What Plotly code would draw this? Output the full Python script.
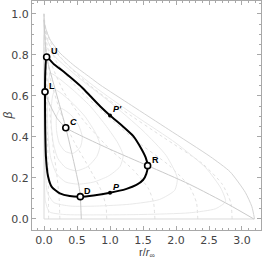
import plotly.graph_objects as go

# ---- data ----
# bold orbit (clockwise from U)
orbit_r = [0.04, 0.15, 0.30, 0.44, 0.58, 0.70, 0.85, 1.00, 1.20, 1.35, 1.47, 1.54, 1.57, 1.55, 1.50, 1.40, 1.25, 1.00, 0.75, 0.55, 0.39, 0.24, 0.12, 0.06, 0.03, 0.018, 0.015, 0.02, 0.04]
orbit_b = [0.79, 0.755, 0.718, 0.68, 0.64, 0.60, 0.55, 0.505, 0.45, 0.405, 0.345, 0.30, 0.26, 0.22, 0.19, 0.166, 0.147, 0.128, 0.115, 0.109, 0.112, 0.125, 0.155, 0.21, 0.30, 0.45, 0.62, 0.72, 0.79]

# marked points
pt_names = ["U", "L", "C", "D", "R"]
pt_r = [0.04, 0.015, 0.33, 0.55, 1.57]
pt_b = [0.79, 0.62, 0.445, 0.109, 0.26]
pt_italic = [False, False, True, False, False]
arrow_names = ["P", "P'"]
arrow_r = [1.00, 1.00]
arrow_b = [0.128, 0.505]

# nullclines
null1_r = [0.0, 0.04, 0.18, 0.33, 0.45, 0.53, 0.55, 0.565]
null1_b = [0.97, 0.79, 0.62, 0.445, 0.28, 0.16, 0.109, 0.0]
null2_r = [0.0, 0.1, 0.2, 0.33, 0.6, 1.0, 1.57, 2.2, 2.8, 3.18]
null2_b = [0.63, 0.55, 0.49, 0.445, 0.40, 0.34, 0.26, 0.17, 0.07, 0.0]

# outer boundary and axes of the domain
bound_r = [0.0, 0.01, 0.04, 0.10, 0.24, 0.45, 0.70, 0.85, 1.33, 1.89, 2.52, 2.82, 3.05, 3.15, 3.19]
bound_b = [1.0, 0.95, 0.915, 0.87, 0.81, 0.75, 0.69, 0.654, 0.553, 0.436, 0.304, 0.23, 0.13, 0.06, 0.0]
edge_r = [0.0, 0.0, 3.19]
edge_b = [1.0, 0.0, 0.0]

# other orbits (light gray)
orbA_r = [0.005, 0.1, 0.4, 0.85, 1.4, 2.0, 2.45, 2.68, 2.75, 2.6, 2.2, 1.5, 0.8, 0.3, 0.08, 0.02, 0.008, 0.005, 0.005]
orbA_b = [0.9, 0.84, 0.74, 0.625, 0.50, 0.37, 0.25, 0.15, 0.085, 0.05, 0.03, 0.022, 0.02, 0.022, 0.035, 0.09, 0.3, 0.6, 0.9]
orbB_r = [0.02, 0.2, 0.6, 1.0, 1.5, 1.85, 2.02, 1.98, 1.75, 1.3, 0.8, 0.4, 0.15, 0.05, 0.02, 0.012, 0.012, 0.02]
orbB_b = [0.84, 0.78, 0.67, 0.57, 0.43, 0.31, 0.2, 0.14, 0.095, 0.072, 0.063, 0.063, 0.08, 0.13, 0.25, 0.45, 0.68, 0.84]
orbI1_r = [0.10, 0.4, 0.7, 0.95, 1.12, 1.2, 1.15, 0.98, 0.75, 0.52, 0.33, 0.19, 0.1, 0.06, 0.05, 0.06, 0.10]
orbI1_b = [0.71, 0.64, 0.55, 0.45, 0.37, 0.31, 0.255, 0.21, 0.18, 0.17, 0.18, 0.22, 0.3, 0.42, 0.56, 0.65, 0.71]
orbI2_r = [0.17, 0.4, 0.62, 0.78, 0.85, 0.8, 0.66, 0.49, 0.33, 0.21, 0.14, 0.11, 0.11, 0.13, 0.17]
orbI2_b = [0.63, 0.575, 0.50, 0.42, 0.36, 0.305, 0.255, 0.235, 0.25, 0.295, 0.37, 0.46, 0.54, 0.6, 0.63]
orbI3_r = [0.25, 0.4, 0.52, 0.58, 0.55, 0.44, 0.32, 0.23, 0.19, 0.19, 0.25]
orbI3_b = [0.54, 0.51, 0.46, 0.40, 0.35, 0.32, 0.33, 0.37, 0.43, 0.5, 0.54]

# dotted family
dot1_r = [2.85, 2.83, 2.7, 2.4, 1.8, 1.2, 0.7, 0.3, 0.1, 0.02, 0.0]
dot1_b = [0.0, 0.08, 0.17, 0.27, 0.40, 0.53, 0.65, 0.77, 0.86, 0.94, 1.0]
dot2_r = [2.33, 2.31, 2.2, 1.9, 1.4, 0.9, 0.5, 0.2, 0.06, 0.01, 0.0]
dot2_b = [0.0, 0.08, 0.16, 0.26, 0.38, 0.52, 0.64, 0.76, 0.87, 0.95, 1.0]
dot3_r = [1.68, 1.66, 1.58, 1.35, 1.0, 0.6, 0.3, 0.12, 0.03, 0.0]
dot3_b = [0.0, 0.08, 0.15, 0.24, 0.34, 0.48, 0.62, 0.75, 0.88, 1.0]
dot4_r = [0.95, 0.94, 0.88, 0.7, 0.45, 0.25, 0.1, 0.03, 0.0]
dot4_b = [0.0, 0.06, 0.13, 0.24, 0.38, 0.52, 0.68, 0.84, 1.0]
dot5_r = [0.24, 0.23, 0.2, 0.14, 0.08, 0.03, 0.0]
dot5_b = [0.0, 0.1, 0.2, 0.35, 0.55, 0.77, 1.0]
dot6_r = [0.07, 0.065, 0.05, 0.03, 0.01, 0.0]
dot6_b = [0.0, 0.2, 0.45, 0.7, 0.9, 1.0]

x_tickvals = [0.0, 0.5, 1.0, 1.5, 2.0, 2.5, 3.0]
x_ticktext = ["0.0", "0.5", "1.0", "1.5", "2.0", "2.5", "3.0"]
y_tickvals = [0.0, 0.2, 0.4, 0.6, 0.8, 1.0]
y_ticktext = ["0.0", "0.2", "0.4", "0.6", "0.8", "1.0"]

fig = go.Figure()

def add_line(xs, ys, color, width, dash="solid", shape="spline", smoothing=0.6):
    fig.add_trace(go.Scatter(x=xs, y=ys, mode="lines", hoverinfo="skip",
                             line=dict(color=color, width=width, dash=dash, shape=shape,
                                       smoothing=smoothing)))

for xs, ys in [(dot1_r, dot1_b), (dot2_r, dot2_b), (dot3_r, dot3_b),
               (dot4_r, dot4_b), (dot5_r, dot5_b), (dot6_r, dot6_b)]:
    add_line(xs, ys, "#d8d8d8", 0.8, dash="dot")
for xs, ys in [(orbA_r, orbA_b), (orbB_r, orbB_b), (orbI1_r, orbI1_b),
               (orbI2_r, orbI2_b), (orbI3_r, orbI3_b)]:
    add_line(xs, ys, "#e6e6e6", 0.9)
add_line(bound_r, bound_b, "#d4d4d4", 1.0)
add_line(edge_r, edge_b, "#dadada", 1.0, shape="linear")
add_line(null1_r, null1_b, "#cacaca", 1.0)
add_line(null2_r, null2_b, "#cacaca", 1.0)
add_line(orbit_r, orbit_b, "#000000", 2.0, smoothing=0.5)

fig.add_trace(go.Scatter(x=arrow_r, y=arrow_b, mode="markers", hoverinfo="skip",
                         marker=dict(color="black", size=4)))
fig.add_trace(go.Scatter(x=pt_r, y=pt_b, mode="markers", hoverinfo="skip",
                         marker=dict(color="white", size=6, line=dict(color="black", width=1.6))))

for n, x, y, it in zip(pt_names, pt_r, pt_b, pt_italic):
    txt = f"<i>{n}</i>" if it else n
    fig.add_annotation(x=x, y=y, text=f"<b>{txt}</b>", showarrow=False,
                       xanchor="left", yanchor="bottom", xshift=2, yshift=-1,
                       font=dict(family="Liberation Sans", size=9, color="black"))
for n, x, y in zip(arrow_names, arrow_r, arrow_b):
    fig.add_annotation(x=x, y=y, text=f"<b><i>{n}</i></b>", showarrow=False,
                       xanchor="left", yanchor="bottom", xshift=1, yshift=-1,
                       font=dict(family="Liberation Sans", size=9, color="black"))

# axis titles
fig.add_annotation(xref="paper", yref="paper", x=0.5, y=-0.102, text="r/<i>r</i><sub>∞</sub>",
                   showarrow=False, xanchor="center", yanchor="middle",
                   font=dict(family="Liberation Sans", size=11, color="#444444"))
fig.add_annotation(xref="paper", yref="paper", x=-0.105, y=0.5, text="<i>β</i>", textangle=-90,
                   showarrow=False, xanchor="center", yanchor="middle",
                   font=dict(family="Liberation Sans", size=12, color="#444444"))

axis_common = dict(showgrid=False, zeroline=False, showline=True, linecolor="#a8a8a8",
                   linewidth=1, mirror="ticks", ticks="inside", ticklen=4,
                   tickcolor="#a8a8a8", tickwidth=1, automargin=False,
                   tickfont=dict(family="DejaVu Sans", size=11, color="#444444"))
fig.update_xaxes(range=[-0.182, 3.288], tickvals=x_tickvals, ticktext=x_ticktext,
                 minor=dict(ticks="inside", ticklen=2, dtick=0.1, tick0=0, tickcolor="#a8a8a8"),
                 **axis_common)
fig.update_yaxes(range=[-0.0537, 1.063], tickvals=y_tickvals, ticktext=y_ticktext,
                 minor=dict(ticks="inside", ticklen=2, dtick=0.05, tick0=0, tickcolor="#a8a8a8"),
                 **axis_common)
fig.update_layout(width=264, height=261, showlegend=False,
                  margin=dict(l=32, r=3, t=1, b=31),
                  paper_bgcolor="white", plot_bgcolor="white")
fig.write_html("out.html", config={"displayModeBar": False},
               post_script="document.body.style.margin='0';document.body.style.overflow='hidden';")
